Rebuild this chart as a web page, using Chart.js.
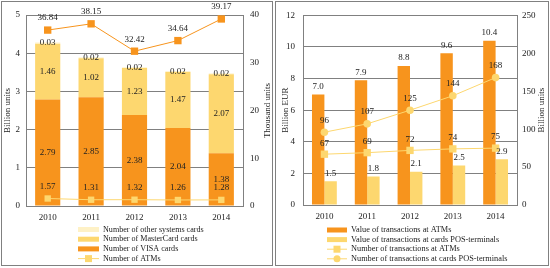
<!DOCTYPE html>
<html lang="en">
<head>
<meta charset="UTF-8">
<title>Payment cards, ATMs and transactions</title>
<script src="https://cdn.jsdelivr.net/npm/chart.js"></script>
<style>
  body { margin: 0; background: #fff; }
  .panel { position: absolute; top: 1px; height: 265px; border: 1px solid #808080; box-sizing: border-box; }
  #p1 { left: 1px; width: 272px; }
  #p2 { left: 275px; width: 274px; }
  canvas { display: block; }
</style>
</head>
<body>
<div class="panel" id="p1"><canvas id="cards" width="270" height="263"></canvas></div>
<div class="panel" id="p2"><canvas id="trans" width="272" height="263"></canvas></div>

<script>
  const years = ['2010', '2011', '2012', '2013', '2014'];

  // left chart
  const visaCards = [2.79, 2.85, 2.38, 2.04, 1.38];
  const masterCards = [1.46, 1.02, 1.23, 1.47, 2.07];
  const otherCards = [0.03, 0.02, 0.02, 0.02, 0.02];
  const posTerminals = [36.84, 38.15, 32.42, 34.64, 39.17];
  const atmCount = [1.57, 1.31, 1.32, 1.26, 1.28];

  // right chart
  const atmValue = [7.0, 7.9, 8.8, 9.6, 10.4];
  const posValue = [1.5, 1.8, 2.1, 2.5, 2.9];
  const atmTrans = [67, 69, 72, 74, 75];
  const posTrans = [96, 107, 125, 144, 168];

  const ORANGE = '#F7941D';
  const YELLOW = '#FDD76F';
  const CREAM = '#FEF1C6';
  const GRID = '#808080';
  const TEXT = '#222';
  const SERIF = '"Liberation Serif", "Times New Roman", serif';

  Chart.defaults.font.family = SERIF;
  Chart.defaults.font.size = 9;
  Chart.defaults.color = TEXT;

  // numbers on bars and points
  const valueLabels = {
    id: 'valueLabels',
    afterDatasetsDraw(chart) {
      const ctx = chart.ctx;
      ctx.save();
      ctx.font = '9px ' + SERIF;
      ctx.fillStyle = TEXT;
      ctx.textAlign = 'center';
      ctx.textBaseline = 'middle';
      chart.data.datasets.forEach((ds, i) => {
        const meta = chart.getDatasetMeta(i);
        meta.data.forEach((el, j) => {
          const txt = ds.data[j].toFixed(ds.digits);
          const y = ds.labelAt === 'center' ? (el.y + el.base) / 2 : el.y - ds.labelGap;
          ctx.fillText(txt, el.x, y);
        });
      });
      ctx.restore();
    }
  };

  // right axis title, read bottom to top like the left one
  const sideTitle = {
    id: 'sideTitle',
    afterDraw(chart, args, opts) {
      const ctx = chart.ctx;
      const a = chart.chartArea;
      ctx.save();
      ctx.font = '9px ' + SERIF;
      ctx.fillStyle = TEXT;
      ctx.textAlign = 'center';
      ctx.textBaseline = 'middle';
      ctx.translate(opts.x, (a.top + a.bottom) / 2);
      ctx.rotate(-Math.PI / 2);
      ctx.fillText(opts.text, 0, 0);
      ctx.restore();
    }
  };

  // one legend item per line, under the plot
  const listLegend = {
    id: 'listLegend',
    afterDraw(chart, args, opts) {
      const ctx = chart.ctx;
      const items = chart.data.datasets.filter(d => d.legendText).sort((a, b) => a.legendRow - b.legendRow);
      ctx.save();
      ctx.font = opts.font;
      ctx.textBaseline = 'middle';
      ctx.textAlign = 'left';
      items.forEach((ds, row) => {
        const x = opts.x;
        const y = opts.y + row * opts.step;
        if (ds.type === 'line') {
          ctx.strokeStyle = ds.borderColor;
          ctx.lineWidth = 1;
          ctx.beginPath();
          ctx.moveTo(x, y);
          ctx.lineTo(x + opts.boxW, y);
          ctx.stroke();
          ctx.fillStyle = ds.backgroundColor;
          const cx = x + opts.boxW / 2;
          if (ds.pointStyle === 'circle') {
            ctx.beginPath();
            ctx.arc(cx, y, 3.5, 0, Math.PI * 2);
            ctx.fill();
          } else {
            ctx.fillRect(cx - 3.5, y - 3.5, 7, 7);
          }
        } else {
          ctx.fillStyle = ds.backgroundColor;
          ctx.fillRect(x, y - opts.boxH / 2, opts.boxW, opts.boxH);
        }
        ctx.fillStyle = TEXT;
        ctx.fillText(ds.legendText, x + opts.boxW + 4, y);
      });
      ctx.restore();
    }
  };

  function lineSet(data, color, style, radius, axis, extra) {
    return Object.assign({
      type: 'line',
      data: data,
      yAxisID: axis,
      borderColor: color,
      backgroundColor: color,
      borderWidth: 1,
      pointStyle: style,
      pointRadius: radius,
      pointBorderWidth: 0,
      fill: false,
      clip: false,
      order: 0,
      digits: 0,
      labelGap: 11
    }, extra);
  }

  new Chart(document.getElementById('cards'), {
    type: 'bar',
    data: {
      labels: years,
      datasets: [
        { data: visaCards, backgroundColor: ORANGE, yAxisID: 'y', order: 1, digits: 2, labelAt: 'center',
          legendText: 'Number of VISA cards', legendRow: 2 },
        { data: masterCards, backgroundColor: YELLOW, yAxisID: 'y', order: 1, digits: 2, labelAt: 'center',
          legendText: 'Number of MasterCard cards', legendRow: 1 },
        { data: otherCards, backgroundColor: CREAM, yAxisID: 'y', order: 1, digits: 2, labelAt: 'center',
          legendText: 'Number of other systems cards', legendRow: 0 },
        lineSet(posTerminals, ORANGE, 'rect', 5.2, 'y1', { digits: 2, labelGap: 12 }),
        lineSet(atmCount, YELLOW, 'rect', 4.5, 'y1', { digits: 2, labelGap: 12,
          legendText: 'Number of ATMs', legendRow: 3 })
      ]
    },
    options: {
      responsive: false,
      animation: false,
      layout: { padding: { left: 0, right: 0, top: 13, bottom: 41 } },
      datasets: { bar: { categoryPercentage: 0.58, barPercentage: 1 } },
      plugins: {
        legend: { display: false },
        tooltip: { enabled: false },
        listLegend: { x: 76, y: 227.5, step: 9.7, boxW: 21, boxH: 5, font: '8.1px ' + SERIF },
        sideTitle: { text: 'Thousand units', x: 266 }
      },
      scales: {
        x: {
          stacked: true,
          grid: { display: false, drawTicks: false },
          border: { color: GRID },
          ticks: { padding: 6 },
          afterFit: s => { s.height = 18; }
        },
        y: {
          stacked: true,
          min: 0, max: 5,
          ticks: { stepSize: 1, padding: 6 },
          grid: { color: GRID, drawTicks: false },
          border: { color: GRID },
          title: { display: true, text: 'Billion units', padding: 0 },
          afterFit: s => { s.width = 24; }
        },
        y1: {
          position: 'right',
          min: 0, max: 40,
          ticks: { stepSize: 10, padding: 7 },
          grid: { display: false, drawTicks: false },
          border: { color: GRID },
          afterFit: s => { s.width = 29; }
        }
      }
    },
    plugins: [valueLabels, listLegend, sideTitle]
  });

  new Chart(document.getElementById('trans'), {
    type: 'bar',
    data: {
      labels: years,
      datasets: [
        { data: atmValue, backgroundColor: ORANGE, yAxisID: 'y', order: 1, digits: 1, labelGap: 8,
          legendText: 'Value of transactions at ATMs', legendRow: 0 },
        { data: posValue, backgroundColor: YELLOW, yAxisID: 'y', order: 1, digits: 1, labelGap: 8,
          legendText: 'Value of transactions at cards POS-terminals', legendRow: 1 },
        lineSet(atmTrans, YELLOW, 'rect', 5.2, 'y1', { labelGap: 11,
          legendText: 'Number of transactions at ATMs', legendRow: 2 }),
        lineSet(posTrans, YELLOW, 'circle', 3.8, 'y1', { labelGap: 12,
          legendText: 'Number of transactions at cards POS-terminals', legendRow: 3 })
      ]
    },
    options: {
      responsive: false,
      animation: false,
      layout: { padding: { left: 0, right: 0, top: 13, bottom: 42 } },
      datasets: { bar: { categoryPercentage: 0.58, barPercentage: 1 } },
      plugins: {
        legend: { display: false },
        tooltip: { enabled: false },
        listLegend: { x: 51, y: 228, step: 9.6, boxW: 20, boxH: 5, font: '8.3px ' + SERIF },
        sideTitle: { text: 'Billion units', x: 266 }
      },
      scales: {
        x: {
          grid: { display: false, drawTicks: false },
          border: { color: GRID },
          ticks: { padding: 6 },
          afterFit: s => { s.height = 18; }
        },
        y: {
          min: 0, max: 12,
          ticks: { stepSize: 2, padding: 8 },
          grid: { color: GRID, drawTicks: false },
          border: { color: GRID },
          title: { display: true, text: 'Billion EUR', padding: { top: 4, bottom: 0 } },
          afterFit: s => { s.width = 27; }
        },
        y1: {
          position: 'right',
          min: 0, max: 250,
          ticks: { stepSize: 50, padding: 5 },
          grid: { display: false, drawTicks: false },
          border: { color: GRID },
          afterFit: s => { s.width = 31; }
        }
      }
    },
    plugins: [valueLabels, listLegend, sideTitle]
  });
</script>
</body>
</html>
